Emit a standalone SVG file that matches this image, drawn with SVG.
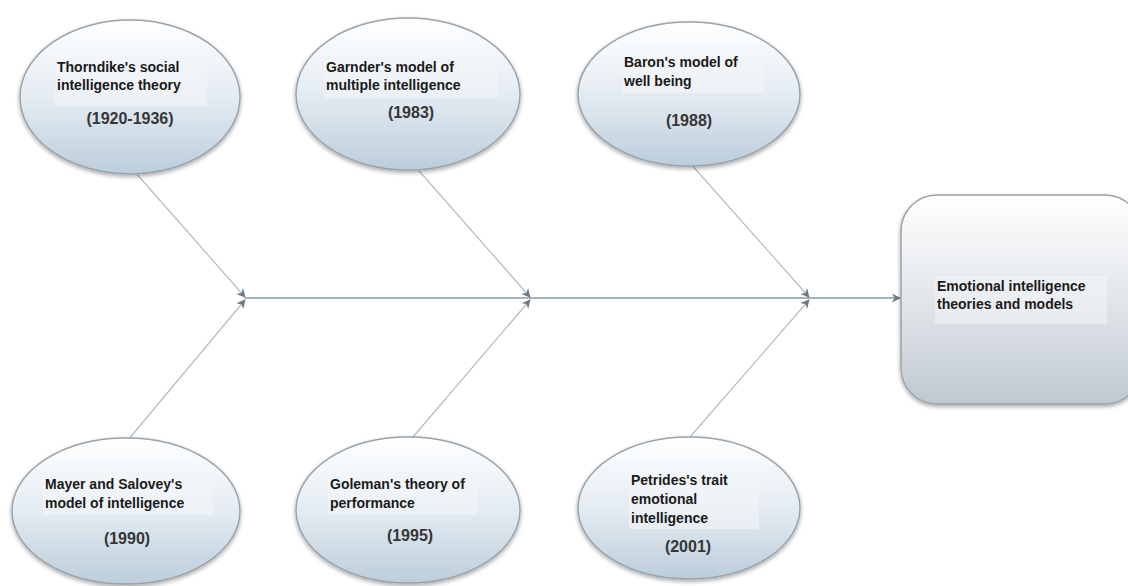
<svg xmlns="http://www.w3.org/2000/svg" width="1128" height="586" viewBox="0 0 1128 586">
<defs>
<linearGradient id="g" x1="0" y1="0" x2="0" y2="1">
<stop offset="0" stop-color="#ffffff"/>
<stop offset="0.5" stop-color="#e4ecf2"/>
<stop offset="1" stop-color="#bccddb"/>
</linearGradient>
<linearGradient id="gr" x1="0" y1="0" x2="0" y2="1">
<stop offset="0" stop-color="#ffffff"/>
<stop offset="0.5" stop-color="#e2e6ea"/>
<stop offset="1" stop-color="#bfc8d0"/>
</linearGradient>
<filter id="sh" x="-10%" y="-10%" width="120%" height="125%">
<feGaussianBlur in="SourceAlpha" stdDeviation="2"/>
<feOffset dx="0" dy="2" result="b"/>
<feComponentTransfer><feFuncA type="linear" slope="0.35"/></feComponentTransfer>
<feMerge><feMergeNode/><feMergeNode in="SourceGraphic"/></feMerge>
</filter>
<marker id="ah" viewBox="0 0 10 10" refX="9" refY="5" markerWidth="9" markerHeight="9" markerUnits="userSpaceOnUse" orient="auto">
<path d="M0,0 L10,5 L0,10 L3,5 Z" fill="#6c7a86"/>
</marker>
</defs>
<style>
.node{fill:url(#g);stroke:#9aa3ab;stroke-width:1.5;filter:url(#sh)}
.box{fill:url(#gr);stroke:#9aa3ab;stroke-width:1.5;filter:url(#sh)}
.t{font-family:"Liberation Sans",Arial,sans-serif;font-size:14px;font-weight:bold;fill:#1a1a1a}
.y{font-family:"Liberation Sans",Arial,sans-serif;font-size:16px;font-weight:bold;fill:#363636;text-anchor:middle}
.tb{fill:#f4f6f8;opacity:0.55}
.c{stroke:#b4bcc2;stroke-width:1.2;fill:none}
.sp{stroke:#8a97a2;stroke-width:1.3;fill:none}
</style>
<rect width="1128" height="586" fill="#ffffff"/>
<g id="connectors">
<line class="sp" x1="245" y1="298" x2="900" y2="298" marker-end="url(#ah)"/>
<line class="c" x1="135" y1="172" x2="245" y2="297" marker-end="url(#ah)"/>
<line class="c" x1="128" y1="440" x2="245" y2="300" marker-end="url(#ah)"/>
<line class="c" x1="413" y1="164" x2="530" y2="297" marker-end="url(#ah)"/>
<line class="c" x1="413" y1="437" x2="530" y2="300" marker-end="url(#ah)"/>
<line class="c" x1="690" y1="163" x2="809" y2="297" marker-end="url(#ah)"/>
<line class="c" x1="690" y1="437" x2="809" y2="300" marker-end="url(#ah)"/>
</g>
<g id="thorndike">
<ellipse class="node" cx="130" cy="97" rx="110" ry="77"/>
<rect class="tb" x="55" y="56" width="152" height="50"/>
<text class="t" x="57" y="72">Thorndike's social</text>
<text class="t" x="57" y="90">intelligence theory</text>
<text class="y" x="130" y="124">(1920-1936)</text>
</g>
<g id="garnder">
<ellipse class="node" cx="408" cy="94" rx="112" ry="76"/>
<rect class="tb" x="324" y="56" width="174" height="42"/>
<text class="t" x="326" y="72">Garnder's model of</text>
<text class="t" x="326" y="90">multiple intelligence</text>
<text class="y" x="411" y="118">(1983)</text>
</g>
<g id="baron">
<ellipse class="node" cx="689" cy="94" rx="111" ry="72"/>
<rect class="tb" x="622" y="51" width="142" height="42"/>
<text class="t" x="624" y="67">Baron's model of</text>
<text class="t" x="624" y="86">well being</text>
<text class="y" x="689" y="126">(1988)</text>
</g>
<g id="mayer">
<ellipse class="node" cx="126" cy="511" rx="114" ry="73"/>
<rect class="tb" x="43" y="473" width="170" height="42"/>
<text class="t" x="45" y="489">Mayer and Salovey's</text>
<text class="t" x="45" y="508">model of intelligence</text>
<text class="y" x="127" y="544">(1990)</text>
</g>
<g id="goleman">
<ellipse class="node" cx="408" cy="510" rx="112" ry="73"/>
<rect class="tb" x="328" y="473" width="150" height="42"/>
<text class="t" x="330" y="489">Goleman's theory of</text>
<text class="t" x="330" y="508">performance</text>
<text class="y" x="410" y="541">(1995)</text>
</g>
<g id="petrides">
<ellipse class="node" cx="689" cy="508" rx="111" ry="71"/>
<rect class="tb" x="629" y="469" width="130" height="60"/>
<text class="t" x="631" y="485">Petrides's trait</text>
<text class="t" x="631" y="504">emotional</text>
<text class="t" x="631" y="523">intelligence</text>
<text class="y" x="688" y="552">(2001)</text>
</g>
<g id="emotional">
<rect class="box" x="901" y="195" width="240" height="209" rx="36" ry="36"/>
<rect class="tb" x="935" y="276" width="172" height="48"/>
<text class="t" x="937" y="291">Emotional intelligence</text>
<text class="t" x="937" y="309">theories and models</text>
</g>
</svg>
